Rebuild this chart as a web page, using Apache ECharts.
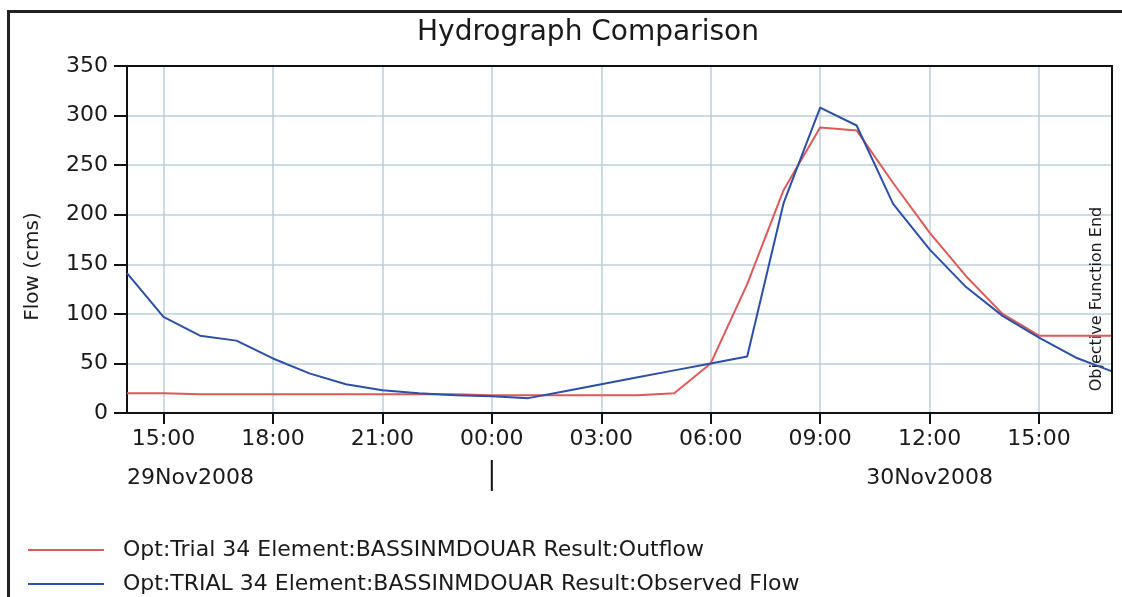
<!DOCTYPE html>
<html>
<head>
<meta charset="utf-8">
<script src="https://cdn.jsdelivr.net/npm/echarts@6/dist/echarts.min.js"></script>
<style>
html,body{margin:0;padding:0;background:#fff;}
#chart{width:1122px;height:597px;}
</style>
</head>
<body>
<div id="chart"></div>
<script>
// Hours counted from 29Nov2008 00:00 (24 = 30Nov2008 00:00)
const hours = [14,15,16,17,18,19,20,21,22,23,24,25,26,27,28,29,30,31,32,33,34,35,36,37,38,39,40,41];
const outflow = [20,20,19,19,19,19,19,19,19,19,18,18,18,18,18,20,50,130,225,288,285,232,182,138,100,78,78,78];
const observed = [141,97,78,73,55,40,29,23,20,18,17,15,22,29,36,43,50,57,212,308,290,211,165,127,98,76,56,42];
const xTickHours = [15,18,21,24,27,30,33,36,39];
const xMin = 14, xMax = 41;
const yMin = 0, yMax = 350, yStep = 50;
const dateLabels = [
  {hour: 14, text: '29Nov2008', align: 'left'},
  {hour: 36, text: '30Nov2008', align: 'center'}
];
const dayBreakHour = 24;
const objectiveEndHour = 41;
const seriesNames = [
  'Opt:Trial 34 Element:BASSINMDOUAR Result:Outflow',
  'Opt:TRIAL 34 Element:BASSINMDOUAR Result:Observed Flow'
];
const title = 'Hydrograph Comparison';
const yName = 'Flow (cms)';

const FONT = 'DejaVu Sans';
const pad2 = n => (n < 10 ? '0' : '') + n;

const chart = echarts.init(document.getElementById('chart'), null, {renderer: 'canvas'});

const option = {
  animation: false,
  backgroundColor: '#ffffff',
  title: {
    text: title,
    left: 417, top: 19, padding: 0,
    textStyle: {fontFamily: FONT, fontSize: 28, fontWeight: 'normal', color: '#1a1a1a'}
  },
  grid: {
    left: 127, top: 66, right: 10, bottom: 184,
    show: true, borderColor: '#111', borderWidth: 2, backgroundColor: 'transparent'
  },
  legend: {
    orient: 'vertical',
    left: 28, top: 539, padding: 0,
    icon: 'rect',
    itemWidth: 76, itemHeight: 2,
    itemGap: 12,
    textStyle: {fontFamily: FONT, fontSize: 22, color: '#1a1a1a', lineHeight: 22, padding: [0, 0, 0, 14]},
    data: seriesNames
  },
  xAxis: {
    type: 'value',
    min: xMin, max: xMax,
    axisLine: {show: true, lineStyle: {color: '#111', width: 2}},
    axisTick: {show: true, length: 11, lineStyle: {color: '#111', width: 2}, customValues: xTickHours},
    axisLabel: {
      customValues: xTickHours,
      margin: 15,
      fontFamily: FONT, fontSize: 22, color: '#1a1a1a',
      formatter: v => pad2(v % 24) + ':00'
    },
    splitLine: {show: true, lineStyle: {color: '#bccfdb', width: 1.5}}
  },
  yAxis: {
    type: 'value',
    min: yMin, max: yMax, interval: yStep,
    axisLine: {show: true, lineStyle: {color: '#111', width: 2}},
    axisTick: {show: true, inside: false, length: 13, lineStyle: {color: '#111', width: 2}},
    axisLabel: {margin: 19, fontFamily: FONT, fontSize: 22, color: '#1a1a1a'},
    splitLine: {show: true, showMinLine: false, showMaxLine: false, lineStyle: {color: '#bccfdb', width: 1.5}}
  },
  series: [
    {
      name: seriesNames[0], type: 'line', symbol: 'none',
      data: hours.map((h, i) => [h, outflow[i]]),
      lineStyle: {color: '#de5a5a', width: 2}, itemStyle: {color: '#de5a5a'}, z: 3
    },
    {
      name: seriesNames[1], type: 'line', symbol: 'none',
      data: hours.map((h, i) => [h, observed[i]]),
      lineStyle: {color: '#2c4fa8', width: 2}, itemStyle: {color: '#2c4fa8'}, z: 4
    }
  ]
};
chart.setOption(option);

// Extra texts positioned through the axes' own scales
const p0 = chart.convertToPixel({gridIndex: 0}, [xMin, yMin]);
const pTop = chart.convertToPixel({gridIndex: 0}, [xMax, yMax]);
const gfx = [];
// outer frame (left & top borders)
gfx.push({type: 'line', shape: {x1: 8.5, y1: 10, x2: 8.5, y2: 597}, style: {stroke: '#222', lineWidth: 3}, silent: true});
gfx.push({type: 'line', shape: {x1: 7, y1: 11.5, x2: 1122, y2: 11.5}, style: {stroke: '#222', lineWidth: 3}, silent: true});
// plot frame top & right edges, drawn over the grid lines
gfx.push({type: 'polyline', shape: {points: [[p0[0], pTop[1]], [pTop[0], pTop[1]], [pTop[0], p0[1]]]}, style: {stroke: '#111', lineWidth: 2, fill: null}, silent: true, z: 10});
// y axis name
gfx.push({
  type: 'text', x: 33, y: (p0[1] + pTop[1]) / 2 + 27, rotation: Math.PI / 2,
  style: {text: yName, font: '20px "' + FONT + '"', fill: '#1a1a1a', align: 'center', verticalAlign: 'middle'}
});
// date labels
dateLabels.forEach(d => {
  const p = chart.convertToPixel({gridIndex: 0}, [d.hour, yMin]);
  gfx.push({
    type: 'text', x: p[0], y: p[1] + 65,
    style: {text: d.text, font: '22px "' + FONT + '"', fill: '#1a1a1a', align: d.align, verticalAlign: 'middle'}
  });
});
// day break mark
const pb = chart.convertToPixel({gridIndex: 0}, [dayBreakHour, yMin]);
gfx.push({type: 'line', shape: {x1: pb[0], y1: pb[1] + 47, x2: pb[0], y2: pb[1] + 78}, style: {stroke: '#111', lineWidth: 2}, silent: true});
// objective function end label
const po = chart.convertToPixel({gridIndex: 0}, [objectiveEndHour, yMin]);
gfx.push({
  type: 'text', x: po[0] - 15, y: p0[1] - 114, rotation: Math.PI / 2,
  style: {text: 'Objective Function End', font: '16px "' + FONT + '"', fill: '#1a1a1a', align: 'center', verticalAlign: 'middle'}
});
chart.setOption({graphic: gfx});
</script>
</body>
</html>
